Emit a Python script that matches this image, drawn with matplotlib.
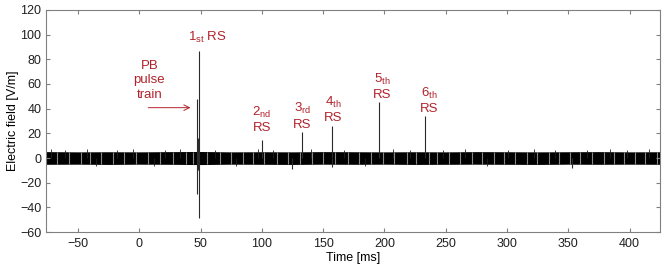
import matplotlib
matplotlib.use("Agg")
import matplotlib.pyplot as plt

plt.rcParams['font.family'] = ['Liberation Sans', 'DejaVu Sans']
plt.rcParams['mathtext.fontset'] = 'custom'
plt.rcParams['mathtext.rm'] = 'Liberation Sans'

# noise band envelope (V/m)
band_t = [-76, -50, -25, 0, 25, 50, 75, 100, 125, 150, 175, 200, 225, 250,
          275, 300, 325, 350, 375, 400, 425]
band_hi = [5.2, 5.0, 5.1, 5.0, 5.2, 5.3, 5.0, 5.1, 5.0, 5.2, 5.1, 5.0, 5.1,
           5.0, 5.2, 5.1, 5.0, 5.1, 5.2, 5.0, 5.1]
band_lo = [-5.1, -5.0, -5.2, -5.0, -5.1, -5.3, -5.0, -5.1, -5.2, -5.0, -5.1,
           -5.0, -5.2, -5.1, -5.0, -5.1, -5.2, -5.0, -5.1, -5.0, -5.1]

# lighter stripes inside the band
gap_t = [-67, -57.7, -47.5, -39.9, -31.2, -21.8, -12.8, -2.7, 6.8, 17.1, 27.5,
         38.3, 43.8, 55.3, 66.1, 74.8, 84.3, 92.8, 102, 112, 121, 131, 141,
         150, 160, 170, 179, 189, 199, 208, 218.4, 226, 236, 242.9, 252.3,
         261.9, 271.4, 279.6, 289, 297.2, 306.7, 316.3, 324.4, 333.9, 342.1,
         351.6, 359.7, 369.3, 378.8, 386.9, 395.1, 404.6, 412.8, 422.3]

# spikes: time (ms), top and bottom (V/m)
spike_t = [47.1, 48.7, 47.6, 48.2, 100.1, 132.7, 156.9, 195.2, 232.8,
           124.6, 353.0, 157.5]
spike_top = [48, 86.8, 16, 14, 14.6, 20.8, 26, 45, 34, 0, 0, 0]
spike_bot = [-29, -48.4, -10, -8, 0, 0, 0, 0, 0, -9, -8, -7.5]

# small noise peaks above / below the band
minor_t = [-72, -61, -43, -35, -18, -5, 12, 21, 33, 62, 79, 97, 109, 140, 167,
           184, 207, 221, 248, 266, 284, 301, 322, 339, 365, 384, 398, 416]
minor_v = [7.0, 6.5, 7.5, -6.5, 6.8, 7.2, -6.5, 6.6, 7.0, 6.8, -6.8, 7.4,
           6.5, 7.0, 6.7, -6.6, 7.2, 6.5, 6.9, 7.3, -6.4, 6.8, 7.1, 6.5, 6.6,
           7.0, 6.8, 7.2]

labels = ["1$_{\\mathrm{st}}$ RS", "PB\npulse\ntrain", "2$_{\\mathrm{nd}}$\nRS",
          "3$_{\\mathrm{rd}}$\nRS", "4$_{\\mathrm{th}}$\nRS",
          "5$_{\\mathrm{th}}$\nRS", "6$_{\\mathrm{th}}$\nRS"]
label_x = [55.5, 8.2, 100, 133, 158, 198, 236.8]
label_y = [98, 63, 31, 34, 39.5, 58, 46.5]

red = '#b2222b'
grey = '#808080'

fig = plt.figure(figsize=(6.69, 2.68), dpi=100)
ax = fig.add_axes([0.069, 0.134, 0.918, 0.829])

ax.fill_between(band_t, band_lo, band_hi, color='black', lw=0)
ax.vlines(gap_t, -4.6, 4.6, color='#a0a0a0', lw=0.8, alpha=0.85)
ax.vlines(minor_t, 0, minor_v, color='#202020', lw=0.6)
for t, hi, lo in zip(spike_t, spike_top, spike_bot):
    ax.vlines(t, lo, hi, color='#2a2a2a', lw=0.8)

for s, x, y in zip(labels, label_x, label_y):
    ax.text(x, y, s, color=red, fontsize=9.5, ha='center', va='center',
            linespacing=1.25)

ax.annotate('', xy=(44, 40.8), xytext=(5, 40.8),
            arrowprops=dict(arrowstyle='->', color=red, lw=0.7))

ax.set_xlim(-76, 425)
ax.set_ylim(-60, 120)
ax.set_xticks(range(-50, 401, 50))
ax.set_yticks(range(-60, 121, 20))
ax.tick_params(direction='in', top=True, right=True, length=3,
               labelsize=9, color=grey, labelcolor='#202020', width=0.8)
ax.tick_params(axis='x', pad=4)
for sp in ax.spines.values():
    sp.set_color(grey)
    sp.set_linewidth(0.8)
ax.set_xlabel('Time [ms]', fontsize=9, labelpad=2)
ax.set_ylabel('Electric field [V/m]', fontsize=9, labelpad=1)

fig.savefig('out.png', dpi=100)
